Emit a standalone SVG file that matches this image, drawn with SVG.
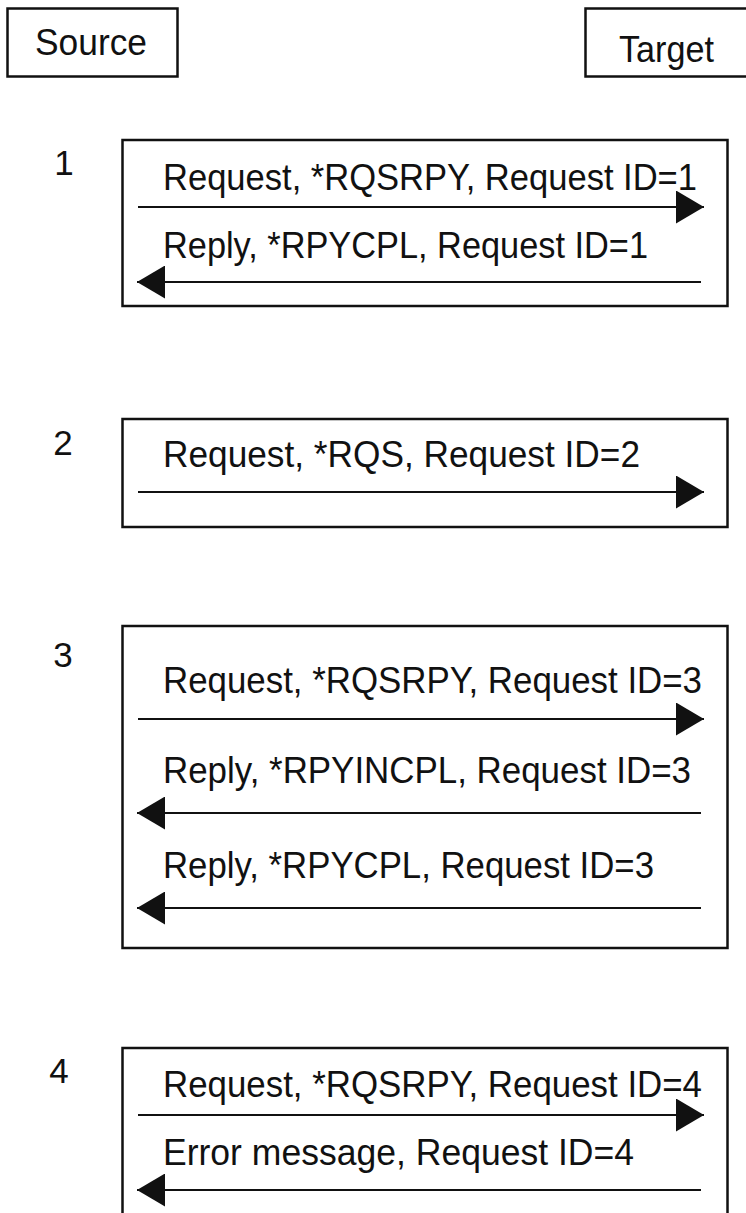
<svg xmlns="http://www.w3.org/2000/svg" width="746" height="1213" viewBox="0 0 746 1213">
  <style>
    .box { fill: none; stroke: #111; stroke-width: 2.5; }
    .lbl { font-family: "Liberation Sans", Arial, Helvetica, sans-serif; font-size: 37px; fill: #111; }
    .num { font-family: "Liberation Sans", Arial, Helvetica, sans-serif; font-size: 35px; fill: #111; text-anchor: middle; }
    .arr { fill: none; stroke: #111; stroke-width: 2.2; marker-end: url(#head); }
  </style>
  <defs>
    <marker id="head" viewBox="0 0 28 33" refX="28" refY="16.5" markerWidth="28" markerHeight="33" markerUnits="userSpaceOnUse" orient="auto">
      <path d="M0,0 L28,16.5 L0,33 Z" fill="#111"/>
    </marker>
  </defs>
  <rect width="746" height="1213" fill="#fff"/>

  <g id="source">
    <rect class="box" x="7.5" y="8.5" width="170" height="68"/>
    <text class="lbl" x="35" y="55" textLength="112" lengthAdjust="spacingAndGlyphs">Source</text>
  </g>
  <g id="target">
    <rect class="box" x="585.5" y="8.5" width="200" height="68"/>
    <text class="lbl" x="619" y="62" textLength="95" lengthAdjust="spacingAndGlyphs">Target</text>
  </g>

  <g id="step1">
    <text class="num" x="64" y="175">1</text>
    <rect class="box" x="122.5" y="140" width="605" height="166"/>
    <text class="lbl" x="163" y="190" textLength="534" lengthAdjust="spacingAndGlyphs">Request, *RQSRPY, Request ID=1</text>
    <text class="lbl" x="163" y="258" textLength="485" lengthAdjust="spacingAndGlyphs">Reply, *RPYCPL, Request ID=1</text>
  </g>

  <g id="step2">
    <text class="num" x="63" y="455">2</text>
    <rect class="box" x="122.5" y="419" width="605" height="108"/>
    <text class="lbl" x="163" y="467" textLength="477" lengthAdjust="spacingAndGlyphs">Request, *RQS, Request ID=2</text>
  </g>

  <g id="step3">
    <text class="num" x="63" y="667">3</text>
    <rect class="box" x="122.5" y="626" width="605" height="322"/>
    <text class="lbl" x="163" y="693" textLength="539" lengthAdjust="spacingAndGlyphs">Request, *RQSRPY, Request ID=3</text>
    <text class="lbl" x="163" y="783" textLength="528" lengthAdjust="spacingAndGlyphs">Reply, *RPYINCPL, Request ID=3</text>
    <text class="lbl" x="163" y="878" textLength="491" lengthAdjust="spacingAndGlyphs">Reply, *RPYCPL, Request ID=3</text>
  </g>

  <g id="step4">
    <text class="num" x="59" y="1083">4</text>
    <rect class="box" x="122.5" y="1048" width="605" height="200"/>
    <text class="lbl" x="163" y="1097" textLength="539" lengthAdjust="spacingAndGlyphs">Request, *RQSRPY, Request ID=4</text>
    <text class="lbl" x="163" y="1165" textLength="471" lengthAdjust="spacingAndGlyphs">Error message, Request ID=4</text>
  </g>

  <g id="connectors">
    <line class="arr" x1="138" y1="207" x2="704" y2="207"/>
    <line class="arr" x1="701" y1="282" x2="137" y2="282"/>
    <line class="arr" x1="138" y1="492" x2="704" y2="492"/>
    <line class="arr" x1="138" y1="719" x2="704" y2="719"/>
    <line class="arr" x1="701" y1="813" x2="137" y2="813"/>
    <line class="arr" x1="701" y1="908" x2="137" y2="908"/>
    <line class="arr" x1="138" y1="1115" x2="704" y2="1115"/>
    <line class="arr" x1="701" y1="1190" x2="137" y2="1190"/>
  </g>
</svg>
